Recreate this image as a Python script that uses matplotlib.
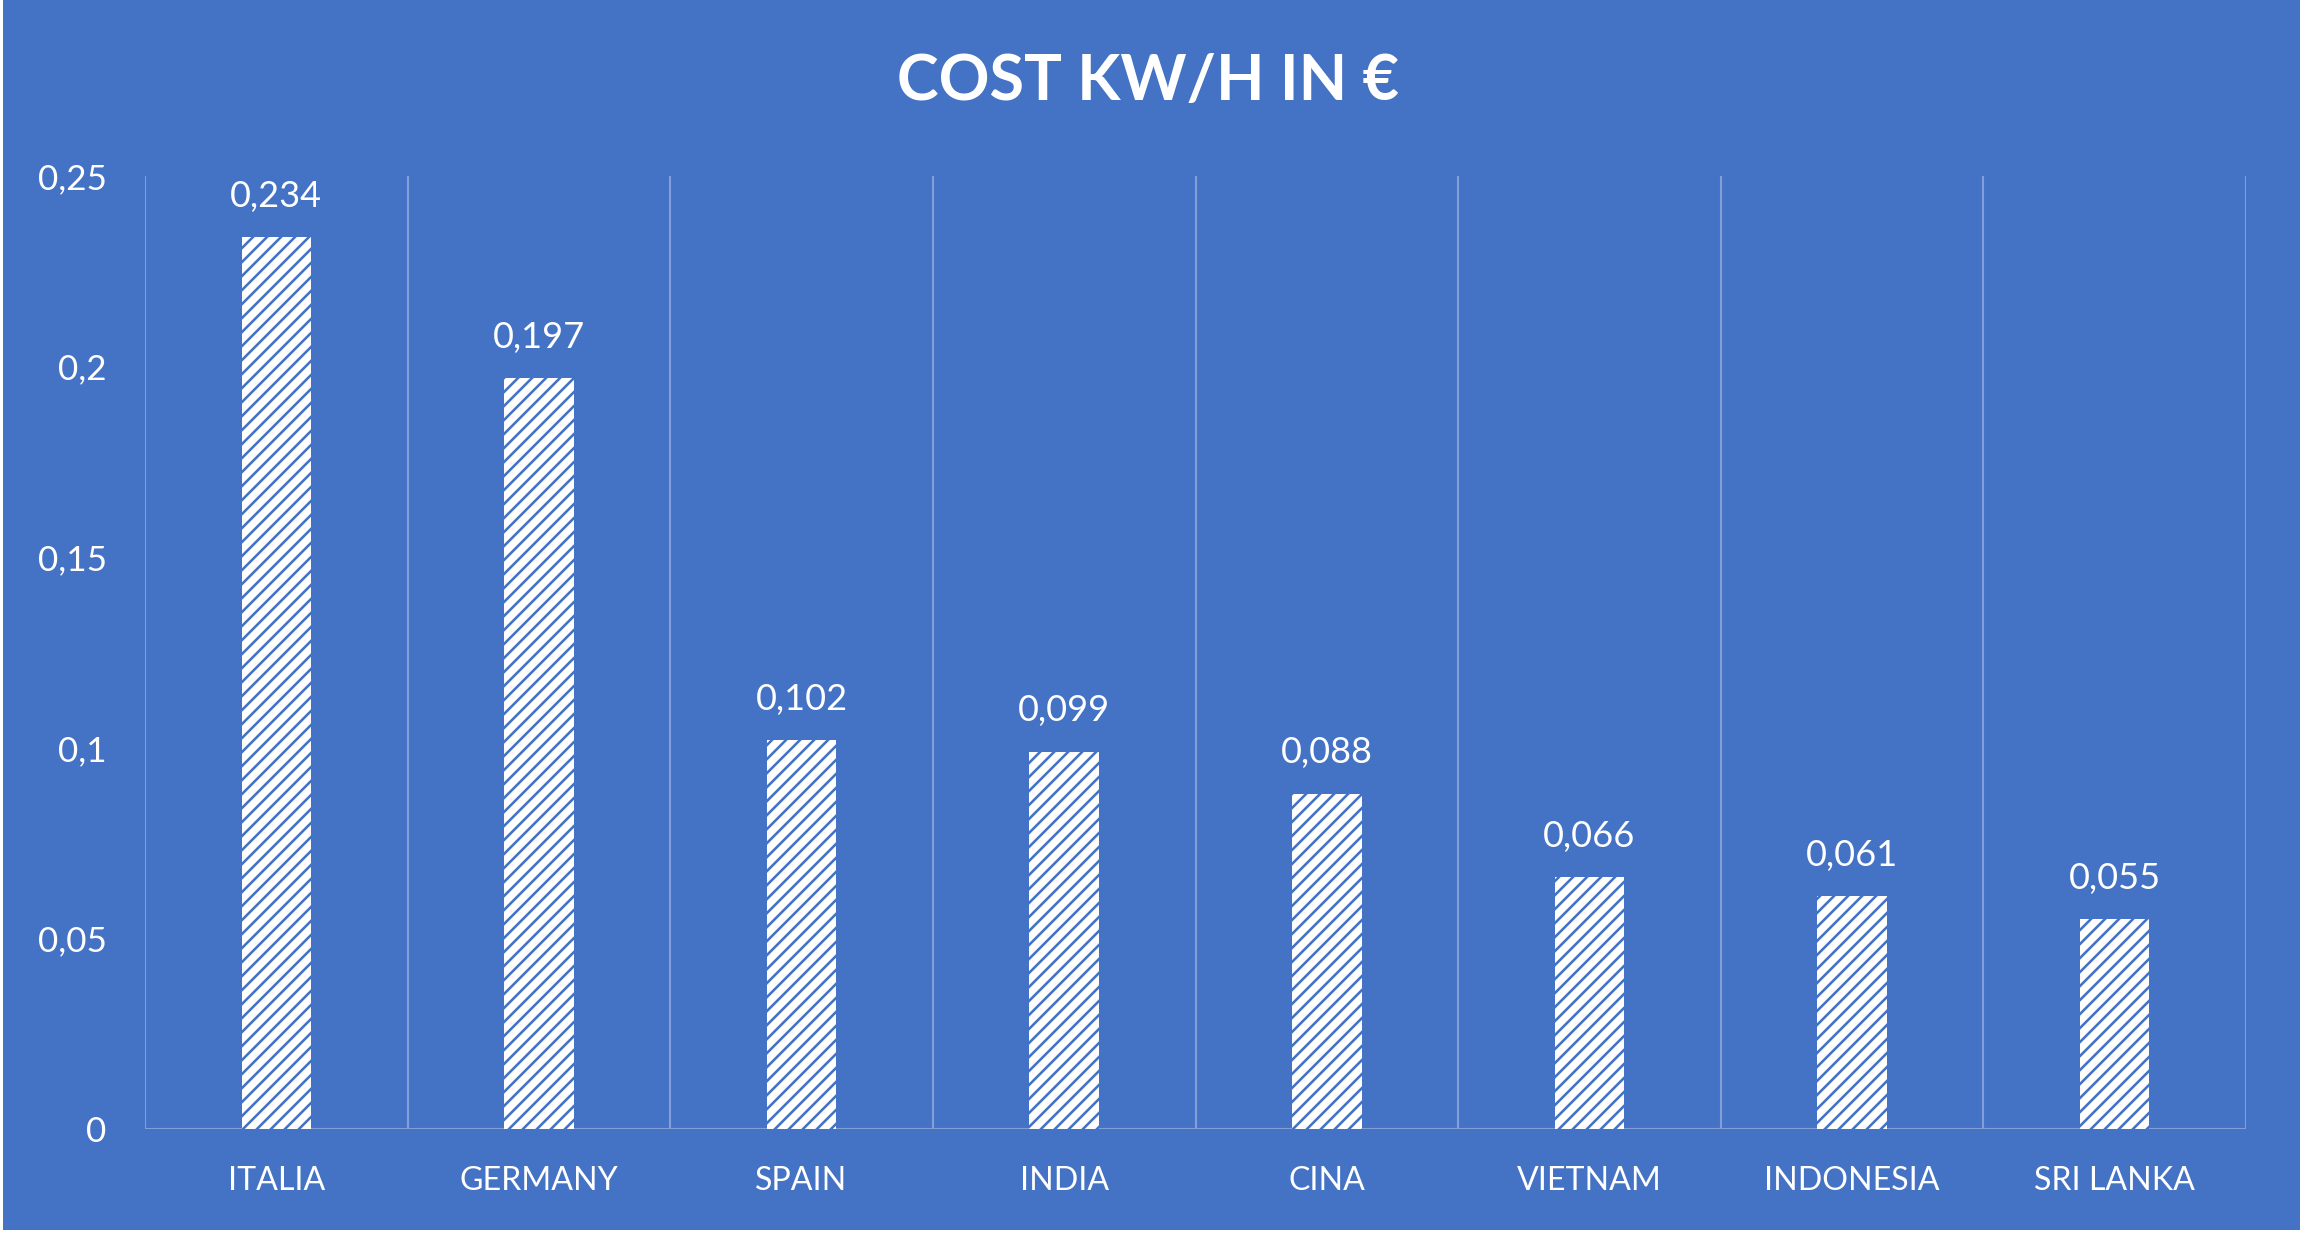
import matplotlib
matplotlib.use("Agg")
import matplotlib.pyplot as plt
from matplotlib.patches import Rectangle

# Chart data
COUNTRIES = ["ITALIA", "GERMANY", "SPAIN", "INDIA", "CINA", "VIETNAM", "INDONESIA", "SRI LANKA"]
COST_KWH = [0.234, 0.197, 0.102, 0.099, 0.088, 0.066, 0.061, 0.055]
Y_TICKS = [0, 0.05, 0.1, 0.15, 0.2, 0.25]
TITLE = "COST KW/H IN €"

BG = "#4472C4"
GRID = "#829FD8"
W, H, DPI = 2305, 1237, 84


def comma(v):
    return f"{v:g}".replace(".", ",")


def main():
    plt.rcParams["font.family"] = ["Lato", "DejaVu Sans"]
    plt.rcParams["hatch.linewidth"] = 2.2

    fig = plt.figure(figsize=(W / DPI, H / DPI), dpi=DPI, facecolor="white")
    # blue chart area, leaving a thin white rim like the source
    fig.patches.append(Rectangle((3 / W, 7 / H), (2300 - 3) / W, 1 - 7 / H,
                                 transform=fig.transFigure, facecolor=BG,
                                 edgecolor="none", zorder=-10))

    ax = fig.add_axes([145 / W, (H - 1129) / H, (2246 - 145) / W, (1129 - 176) / H])
    ax.set_facecolor("none")

    x = list(range(len(COUNTRIES)))
    ax.bar(x, COST_KWH, width=0.265, facecolor="white", edgecolor=BG,
           linewidth=0, hatch="//", zorder=3)

    for i, v in enumerate(COST_KWH):
        ax.annotate(comma(v), (i, v), xytext=(0, 26), textcoords="offset points",
                    ha="center", va="baseline", fontsize=31, color="white")

    # vertical separators between categories, plus the baseline
    bounds = [i - 0.5 for i in range(len(COUNTRIES) + 1)]
    ax.vlines(bounds, 0, Y_TICKS[-1], color=GRID, linewidth=1.8, zorder=1)
    ax.axhline(0, color=GRID, linewidth=1.8, zorder=2)

    ax.set_xlim(-0.5, len(COUNTRIES) - 0.5)
    ax.set_ylim(0, Y_TICKS[-1])
    ax.set_xticks(x)
    ax.set_xticklabels(COUNTRIES, fontsize=27.5, color="white")
    ax.set_yticks(Y_TICKS)
    ax.set_yticklabels([comma(t) for t in Y_TICKS], fontsize=30, color="white")
    ax.tick_params(axis="y", length=0, pad=33)
    ax.tick_params(axis="x", length=0, pad=32)
    for s in ax.spines.values():
        s.set_visible(False)

    fig.text(1148 / W, 1 - 82 / H, TITLE, ha="center", va="center",
             fontsize=54, fontweight="bold", color="white")

    fig.savefig("out.png", dpi=DPI, facecolor=fig.get_facecolor())


if __name__ == "__main__":
    main()
